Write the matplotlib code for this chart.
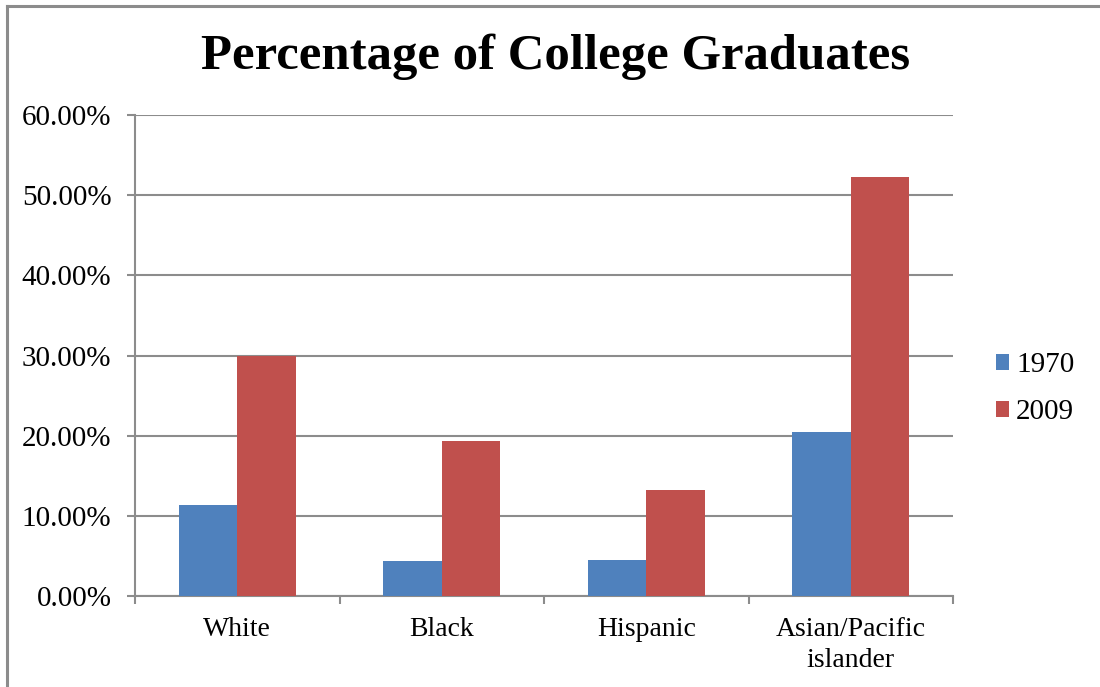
import matplotlib.pyplot as plt
from matplotlib.lines import Line2D
from matplotlib.ticker import PercentFormatter
import numpy as np

# Share of adults holding a college degree, by group
groups = ["White", "Black", "Hispanic", "Asian/Pacific\nislander"]
pct_1970 = [11.3, 4.4, 4.5, 20.4]
pct_2009 = [30.0, 19.3, 13.2, 52.3]
years = ["1970", "2009"]

BLUE = "#4f81bd"
RED = "#c0504d"
GRID = "#8c8c8c"

plt.rcParams["font.family"] = ["Liberation Serif", "DejaVu Serif"]

fig = plt.figure(figsize=(11, 6.87), dpi=100)
ax = fig.add_axes([135 / 1100, 1 - 596 / 687, 818 / 1100, 481 / 687])

x = np.arange(len(groups))
w = 1 / 3.5
ax.bar(x - w / 2, pct_1970, width=w, color=BLUE, label=years[0], zorder=3)
ax.bar(x + w / 2, pct_2009, width=w, color=RED, label=years[1], zorder=3)

ax.set_xlim(-0.5, len(groups) - 0.5)
ax.set_ylim(0, 60)
ax.set_yticks(np.arange(0, 61, 10))
ax.yaxis.set_major_formatter(PercentFormatter(decimals=2))
ax.set_xticks(np.arange(-0.5, len(groups), 1))
ax.set_xticklabels([])
ax.set_xticks(x, minor=True)
ax.set_xticklabels(groups, minor=True, fontsize=20, linespacing=1.35)
ax.tick_params(axis="x", which="minor", length=0, pad=15)
ax.tick_params(axis="x", which="major", length=6, color=GRID, width=1.5, direction="out")
ax.tick_params(axis="y", length=6, color=GRID, width=1.5, labelsize=21, pad=11)

ax.grid(axis="y", color=GRID, linewidth=1.5, zorder=0)
for side in ["top", "right"]:
    ax.spines[side].set_visible(False)
for side in ["left", "bottom"]:
    ax.spines[side].set_color(GRID)
    ax.spines[side].set_linewidth(1.5)

fig.legend(*ax.get_legend_handles_labels(), loc="center left",
           bbox_to_anchor=(981 / 1100, 1 - 389 / 687), frameon=False,
           borderpad=0, fontsize=21, handlelength=0.45, handleheight=0.45,
           handletextpad=0.25, labelspacing=0.72)

fig.text(0.505, 1 - 57 / 687, "Percentage of College Graduates",
         ha="center", va="center", fontsize=36.5, fontweight="bold")

# chart area border (left and top edges only)
fig.add_artist(Line2D([7 / 1100, 7 / 1100], [0, 1 - 6 / 687], color=GRID, lw=2.2))
fig.add_artist(Line2D([7 / 1100, 1], [1 - 6 / 687, 1 - 6 / 687], color=GRID, lw=2.2))

fig.savefig("out.png", dpi=100, facecolor="white")
